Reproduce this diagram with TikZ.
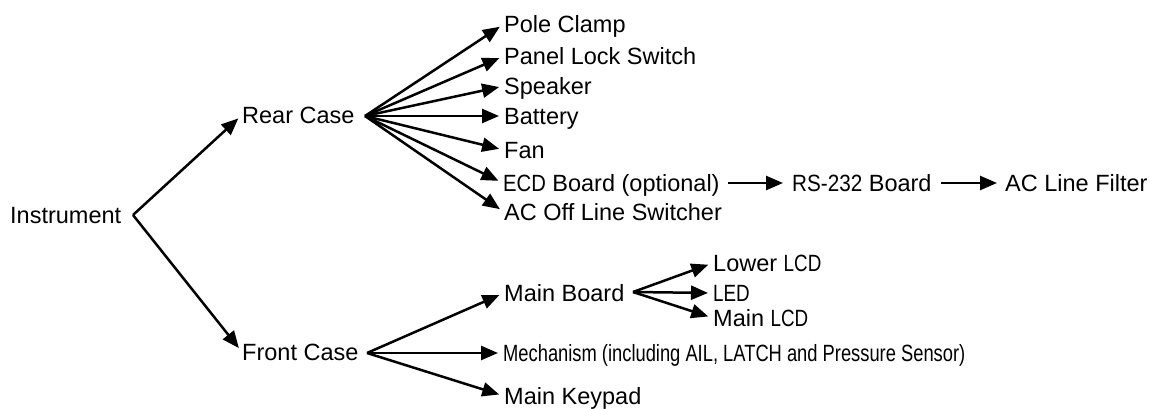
\documentclass[tikz,border=0pt]{standalone}
\usepackage{fontspec}
\usepackage{graphicx}
\setmainfont{Liberation Sans}
\newcommand{\nrw}[2]{\scalebox{#1}[1]{#2}}
\usetikzlibrary{arrows.meta}
\tikzset{
  lbl/.style={anchor=west, inner sep=0pt, text height=17pt, text depth=0pt, font=\fontsize{23.5}{28}\selectfont},
  arr/.style={line width=2.5pt, -{Triangle[length=17pt,width=14pt]}, shorten >=5pt}
}
\begin{document}
\begin{tikzpicture}[x=1pt,y=-1pt]
\useasboundingbox (0,0) rectangle (1150,409);
% nodes
\node[lbl] (ins) at (10,215) {Instrument};
\node[lbl] (rear) at (242,115) {Rear Case};
\node[lbl] (front) at (242,352) {Front Case};
\node[lbl] (pole) at (504,24) {Pole Clamp};
\node[lbl] (panel) at (504,56) {Panel Lock Switch};
\node[lbl] (spk) at (504,86) {Speaker};
\node[lbl] (bat) at (504,116) {Battery};
\node[lbl] (fan) at (504,150) {Fan};
\node[lbl] (ecd) at (503,183) {\nrw{0.86}{ECD} Board (optional)};
\node[lbl] (acoff) at (504,212) {AC Off Line Switcher};
\node[lbl] (rs) at (792,183) {\nrw{0.88}{RS-232} Board};
\node[lbl] (acf) at (1005,183) {AC Line Filter};
\node[lbl] (mb) at (504,293) {Main Board};
\node[lbl] (low) at (713,263) {Lower \nrw{0.8}{LCD}};
\node[lbl] (led) at (713,293) {\nrw{0.8}{LED}};
\node[lbl] (mlcd) at (713,318) {Main \nrw{0.8}{LCD}};
\node[lbl] (mech) at (503,353) {\nrw{0.78}{Mechanism (including AIL, LATCH and Pressure Sensor)}};
\node[lbl] (kp) at (504,396) {Main Keypad};
% vertices
\coordinate (iv) at (133,215);
\coordinate (rv) at (365,116);
\coordinate (fv) at (367,353);
\coordinate (mv) at (633,292);
% connectors
\draw[arr] (iv) -- (rear.west);
\draw[arr] (iv) -- (front.west);
\foreach \n in {pole,panel,spk,bat,fan,ecd,acoff} \draw[arr] (rv) -- (\n.west);
\foreach \n in {mb,mech,kp} \draw[arr] (fv) -- (\n.west);
\foreach \n in {low,led,mlcd} \draw[arr] (mv) -- (\n.west);
\draw[arr, shorten <=8pt, shorten >=9pt] (ecd.east) -- (rs.west);
\draw[arr, shorten <=9pt, shorten >=8pt] (rs.east) -- (acf.west);
\end{tikzpicture}
\end{document}
